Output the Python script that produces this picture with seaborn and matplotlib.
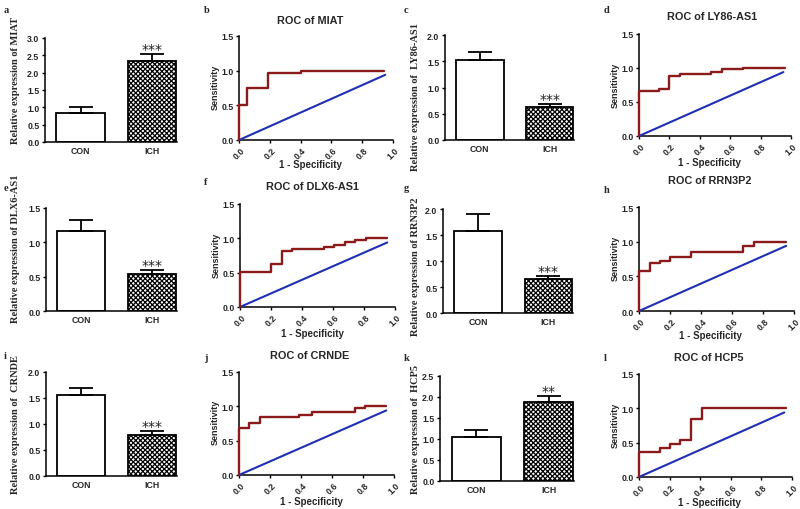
import matplotlib
matplotlib.use("Agg")
import matplotlib.pyplot as plt
import seaborn as sns
import numpy as np
import pandas as pd
from matplotlib.ticker import FormatStrFormatter

# ---------------- data ----------------
genes = ["MIAT", "LY86-AS1", "DLX6-AS1", "RRN3P2", "CRNDE", "HCP5"]
groups = ["CON", "ICH"]
con_mean = [0.85, 1.52, 1.16, 1.58, 1.56, 1.05]
con_err = [0.16, 0.16, 0.17, 0.33, 0.14, 0.17]
ich_mean = [2.35, 0.62, 0.54, 0.645, 0.79, 1.88]
ich_err = [0.20, 0.07, 0.06, 0.07, 0.08, 0.14]
signif = ["***", "***", "***", "***", "***", "**"]
bar_ymax = [3.0, 2.0, 1.5, 2.0, 2.0, 2.5]

roc_fpr = {
    "MIAT": [0, 0, 0.055, 0.055, 0.19, 0.19, 0.40, 0.40, 0.94],
    "LY86-AS1": [0, 0, 0.13, 0.13, 0.20, 0.20, 0.267, 0.267, 0.475, 0.475, 0.547, 0.547, 0.687, 0.687, 0.96],
    "DLX6-AS1": [0, 0, 0.20, 0.20, 0.27, 0.27, 0.336, 0.336, 0.54, 0.54, 0.605, 0.605, 0.675, 0.675,
                 0.745, 0.745, 0.81, 0.81, 0.95],
    "RRN3P2": [0, 0, 0.068, 0.068, 0.136, 0.136, 0.20, 0.20, 0.337, 0.337, 0.674, 0.674, 0.744, 0.744, 0.947],
    "CRNDE": [0, 0, 0.065, 0.065, 0.133, 0.133, 0.39, 0.39, 0.473, 0.473, 0.746, 0.746, 0.815, 0.815, 0.95],
    "HCP5": [0, 0, 0.134, 0.134, 0.20, 0.20, 0.27, 0.27, 0.34, 0.34, 0.41, 0.41, 0.96],
}
roc_tpr = {
    "MIAT": [0, 0.51, 0.51, 0.75, 0.75, 0.97, 0.97, 1.0, 1.0],
    "LY86-AS1": [0, 0.66, 0.66, 0.69, 0.69, 0.88, 0.88, 0.915, 0.915, 0.94, 0.94, 0.98, 0.98, 1.0, 1.0],
    "DLX6-AS1": [0, 0.51, 0.51, 0.63, 0.63, 0.81, 0.81, 0.84, 0.84, 0.87, 0.87, 0.90, 0.90, 0.94, 0.94,
                 0.97, 0.97, 1.0, 1.0],
    "RRN3P2": [0, 0.57, 0.57, 0.69, 0.69, 0.72, 0.72, 0.786, 0.786, 0.844, 0.844, 0.94, 0.94, 1.0, 1.0],
    "CRNDE": [0, 0.69, 0.69, 0.755, 0.755, 0.847, 0.847, 0.88, 0.88, 0.915, 0.915, 0.977, 0.977, 1.0, 1.0],
    "HCP5": [0, 0.36, 0.36, 0.42, 0.42, 0.48, 0.48, 0.54, 0.54, 0.845, 0.845, 1.0, 1.0],
}
diag_x = [0, 0.95]
diag_y = [0, 0.94]
roc_ticks = [0.0, 0.2, 0.4, 0.6, 0.8, 1.0]

bar_letters = ["a", "c", "e", "g", "i", "k"]
roc_letters = ["b", "d", "f", "h", "j", "l"]

# ---------------- style ----------------
sns.set_theme(style="ticks")
plt.rcParams["font.family"] = ["Liberation Sans", "DejaVu Sans"]
plt.rcParams["font.weight"] = "bold"
plt.rcParams["hatch.linewidth"] = 0.9
RED = "#8b1a1a"
BLUE = "#1f2fb5"
W, H = 800, 510

fig = plt.figure(figsize=(8, 5.1), dpi=100)


def px_axes(l, r, t, b):
    return fig.add_axes([l / W, 1 - b / H, (r - l) / W, (b - t) / H])


def ftext(x, y, s, **kw):
    fig.text(x / W, 1 - y / H, s, **kw)


def style_axes(ax):
    sns.despine(ax=ax)
    for sp in ["left", "bottom"]:
        ax.spines[sp].set_linewidth(1.1)
        ax.spines[sp].set_color("black")
    ax.tick_params(axis="both", length=2.5, width=1.0, labelsize=6.3, pad=1.5, color="black")
    for lab in ax.get_xticklabels() + ax.get_yticklabels():
        lab.set_fontweight("bold")


# bar panel geometry: left, right, top(max), bottom(0) in pixels
bar_boxes = [(45, 177, 39, 143), (445, 574, 36, 141), (46, 177, 209, 312),
             (443, 573, 210, 314), (46, 177, 373, 477), (440, 574, 377, 482)]
bar_ylab = [(16, 80), (416, 97), (16, 249), (416, 267), (16, 425), (416, 430)]
bar_letter_pos = [(4, 6), (404, 6), (4, 184), (404, 184), (4, 352), (404, 354)]

roc_boxes = [(239, 393, 37, 141), (639, 791, 35, 137), (240, 395, 205, 308),
             (639, 794, 208, 312), (239, 394, 373, 476), (639, 792, 375, 478)]
roc_title = [(310, 21), (712, 17), (312, 187), (710, 181), (310, 356), (709, 358)]
roc_xlab = [(310, 165), (709, 163), (312, 334), (710, 336), (311, 502), (709, 503)]
roc_ylab = [(215, 87), (615, 85), (216, 255), (615, 258), (215, 422), (615, 425)]
roc_letter_pos = [(204, 6), (604, 6), (204, 178), (604, 186), (204, 354), (604, 354)]

for i, g in enumerate(genes):
    # ---------- bar chart ----------
    ax = px_axes(*bar_boxes[i])
    df = pd.DataFrame({"group": groups, "value": [con_mean[i], ich_mean[i]]})
    sns.barplot(data=df, x="group", y="value", hue="group", palette=["white", "white"],
                edgecolor="black", linewidth=1.3, width=0.68, legend=False,
                errorbar=None, ax=ax, zorder=2)
    ax.patches[1].set_hatch("xxxxxxx")
    ax.errorbar([0, 1], [con_mean[i], ich_mean[i]],
                yerr=[[0, 0], [con_err[i], ich_err[i]]], fmt="none",
                ecolor="black", elinewidth=1.3, capsize=8.5, capthick=1.3, zorder=3)
    ax.annotate(signif[i], (1, ich_mean[i] + ich_err[i]), xytext=(0, 0.5),
                textcoords="offset points", ha="center", va="baseline",
                fontsize=10, fontweight="normal", color="#222222",
                family=["DejaVu Sans"])
    ax.set_xlim(-0.5, 1.35)
    ax.set_ylim(0, bar_ymax[i])
    ax.set_yticks(np.arange(0, bar_ymax[i] + 0.01, 0.5))
    ax.yaxis.set_major_formatter(FormatStrFormatter("%.1f"))
    ax.set_xlabel("")
    ax.set_ylabel("")
    style_axes(ax)
    ax.tick_params(axis="x", length=0, pad=3)
    sep = "  " if g in ("LY86-AS1", "CRNDE", "HCP5") else " "
    ftext(*bar_ylab[i], "Relative expression of" + sep + g, rotation=90, ha="center",
          va="center", fontsize=7.5, fontweight="bold",
          family=["Liberation Serif", "DejaVu Serif"])
    ftext(*bar_letter_pos[i], bar_letters[i], ha="left", va="top", fontsize=7.5,
          fontweight="bold", family=["Liberation Serif", "DejaVu Serif"])

    # ---------- ROC ----------
    ax2 = px_axes(*roc_boxes[i])
    sns.lineplot(x=diag_x, y=diag_y, sort=False, estimator=None, color=BLUE,
                 linewidth=1.5, ax=ax2, clip_on=False, zorder=3)
    sns.lineplot(x=roc_fpr[g], y=roc_tpr[g], sort=False, estimator=None, color=RED,
                 linewidth=1.7, ax=ax2, clip_on=False, zorder=4)
    ax2.set_xlim(0, 1)
    ax2.set_ylim(0, 1.5)
    ax2.set_xticks(roc_ticks)
    ax2.set_yticks([0, 0.5, 1.0, 1.5])
    ax2.xaxis.set_major_formatter(FormatStrFormatter("%.1f"))
    ax2.yaxis.set_major_formatter(FormatStrFormatter("%.1f"))
    ax2.set_xlabel("")
    ax2.set_ylabel("")
    style_axes(ax2)
    for lab in ax2.get_xticklabels():
        lab.set_rotation(45)
        lab.set_ha("center")
    ftext(*roc_title[i], "ROC of " + g, ha="center", va="center", fontsize=7.8,
          fontweight="bold")
    ftext(*roc_xlab[i], "1 - Specificity", ha="center", va="center", fontsize=7,
          fontweight="bold")
    ftext(*roc_ylab[i], "Sensitivity", ha="center", va="center", rotation=90,
          fontsize=6.5, fontweight="bold")
    ftext(*roc_letter_pos[i], roc_letters[i], ha="left", va="top", fontsize=7.5,
          fontweight="bold", family=["Liberation Serif", "DejaVu Serif"])

fig.savefig("out.png", dpi=100, facecolor="white")
